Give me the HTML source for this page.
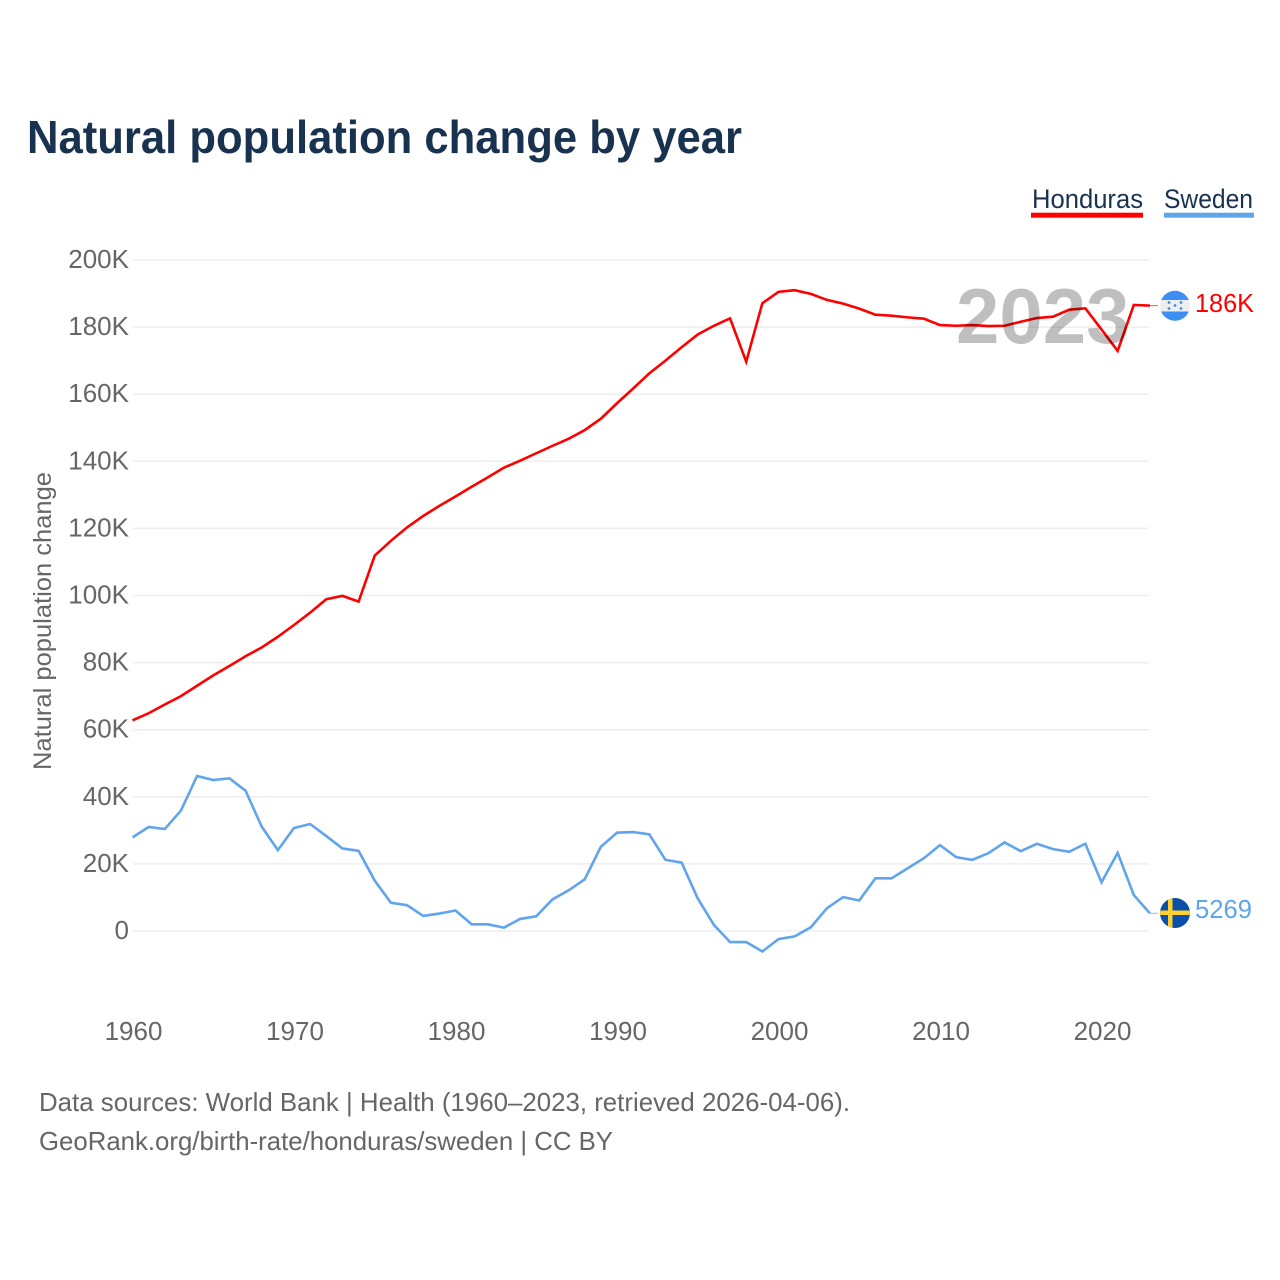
<!DOCTYPE html>
<html lang="en">
<head>
<meta charset="utf-8">
<title>Natural population change by year</title>
<style>
html,body{margin:0;padding:0;background:#fff;}
svg{display:block;font-family:"Liberation Sans",sans-serif;}
</style>
</head>
<body>
<svg id="chart" xmlns="http://www.w3.org/2000/svg" width="1280" height="1280" viewBox="0 0 1280 1280">
  <defs>
    <clipPath id="clip-hn"><circle cx="1175" cy="305.8" r="15"/></clipPath>
    <clipPath id="clip-se"><circle cx="1175" cy="913" r="15"/></clipPath>
  </defs>
  <rect x="0" y="0" width="1280" height="1280" fill="#fff"/>
  <text x="27" y="153" font-size="46" font-weight="700" fill="#18324f" textLength="715" lengthAdjust="spacingAndGlyphs">Natural population change by year</text>

  <text x="1032" y="208" font-size="27" fill="#18324f" textLength="111" lengthAdjust="spacingAndGlyphs">Honduras</text>
  <rect x="1031" y="212.7" width="112" height="5" fill="#ff0000"/>
  <text x="1164" y="208" font-size="27" fill="#18324f" textLength="89" lengthAdjust="spacingAndGlyphs">Sweden</text>
  <rect x="1164" y="212.7" width="90" height="5" fill="#60a5ec"/>

  <g id="grid"></g>
  <g id="y-ticks"></g>
  <g id="x-ticks"></g>
  <text transform="translate(51,621) rotate(-90)" text-anchor="middle" font-size="25" fill="#666" textLength="298" lengthAdjust="spacingAndGlyphs">Natural population change</text>

  <g id="series"></g>

  <text x="956" y="343" font-size="78" font-weight="700" fill="#000" fill-opacity="0.25">2023</text>

  <g clip-path="url(#clip-hn)">
    <rect x="1160" y="290" width="30" height="31" fill="#eeeeee"/>
    <rect x="1160" y="290" width="30" height="10" fill="#3a8ff0"/>
    <rect x="1160" y="311.5" width="30" height="10" fill="#3a8ff0"/>
    <circle cx="1169" cy="302.5" r="1.4" fill="#3a8ff0"/>
    <circle cx="1181" cy="302.5" r="1.4" fill="#3a8ff0"/>
    <circle cx="1175" cy="305.5" r="1.4" fill="#3a8ff0"/>
    <circle cx="1169" cy="308.5" r="1.4" fill="#3a8ff0"/>
    <circle cx="1181" cy="308.5" r="1.4" fill="#3a8ff0"/>
  </g>
  <text id="label-hn" x="1195" y="312" font-size="26" fill="#ff0000" textLength="59" lengthAdjust="spacingAndGlyphs"></text>

  <g clip-path="url(#clip-se)">
    <rect x="1160" y="898" width="30" height="30" fill="#0a4fa8"/>
    <rect x="1168" y="898" width="4.5" height="30" fill="#ffd02e"/>
    <rect x="1160" y="910.5" width="30" height="4.5" fill="#ffd02e"/>
  </g>
  <text id="label-se" x="1195" y="918" font-size="26" fill="#60a5ec" textLength="57" lengthAdjust="spacingAndGlyphs"></text>

  <text x="39" y="1111" font-size="26" fill="#666" textLength="811" lengthAdjust="spacingAndGlyphs">Data sources: World Bank | Health (1960–2023, retrieved 2026-04-06).</text>
  <text x="39" y="1150" font-size="26" fill="#666" textLength="574" lengthAdjust="spacingAndGlyphs">GeoRank.org/birth-rate/honduras/sweden | CC BY</text>
</svg>
<script>
const startYear = 1960;
const yTickValues = [0, 20, 40, 60, 80, 100, 120, 140, 160, 180, 200];
const yTickLabels = ['0', '20K', '40K', '60K', '80K', '100K', '120K', '140K', '160K', '180K', '200K'];
const xTickValues = [1960, 1970, 1980, 1990, 2000, 2010, 2020];
const hondurasValues = [62.8, 64.9, 67.5, 70.0, 73.1, 76.2, 79.0, 81.9, 84.5, 87.7, 91.2, 94.9, 98.9, 99.9, 98.2, 111.9, 116.3, 120.3, 123.7, 126.7, 129.5, 132.4, 135.2, 138.1, 140.2, 142.4, 144.6, 146.7, 149.3, 152.7, 157.3, 161.7, 166.2, 170.0, 174.0, 177.8, 180.4, 182.6, 169.7, 187.1, 190.5, 191.0, 189.9, 188.1, 187.0, 185.5, 183.7, 183.4, 182.9, 182.5, 180.6, 180.4, 180.6, 180.3, 180.4, 181.6, 182.7, 183.1, 185.2, 185.6, 179.3, 172.9, 186.6, 186.4];
const swedenValues = [27.9, 31.0, 30.4, 35.9, 46.2, 45.0, 45.5, 41.8, 31.1, 24.1, 30.7, 31.9, 28.3, 24.6, 23.9, 15.0, 8.4, 7.7, 4.5, 5.2, 6.1, 2.0, 2.0, 1.0, 3.6, 4.4, 9.4, 12.1, 15.4, 25.1, 29.3, 29.5, 28.8, 21.2, 20.4, 9.7, 1.8, -3.3, -3.3, -6.1, -2.4, -1.6, 1.1, 6.8, 10.1, 9.1, 15.7, 15.7, 18.7, 21.7, 25.6, 22.0, 21.2, 23.2, 26.4, 23.8, 26.0, 24.4, 23.6, 26.0, 14.5, 23.3, 10.7, 5.269];
const hondurasEndLabel = '186K';
const swedenEndLabel = '5269';

const NS = 'http://www.w3.org/2000/svg';
const xScale = function (year) { return 132.5 + (year - startYear) * 16.15; };
const yScale = function (v) { return 931 - v * 3.355; };

function make(tag, parent) {
  const el = document.createElementNS(NS, tag);
  parent.appendChild(el);
  return el;
}

const gridGroup = document.getElementById('grid');
const yTickGroup = document.getElementById('y-ticks');
yTickValues.forEach(function (v, i) {
  const line = make('line', gridGroup);
  
  
  line.setAttribute('x1', 133);
  line.setAttribute('x2', 1149);
  line.setAttribute('y1', yScale(v));
  line.setAttribute('y2', yScale(v));
  line.setAttribute('stroke', '#eeeeee');
  line.setAttribute('stroke-width', 1.5);

  const label = make('text', yTickGroup);
  
  
  label.setAttribute('x', 129);
  label.setAttribute('y', yScale(v) + 8);
  label.setAttribute('text-anchor', 'end');
  label.setAttribute('font-size', 26);
  label.setAttribute('fill', '#666');
  label.textContent = yTickLabels[i];
});

const xTickGroup = document.getElementById('x-ticks');
xTickValues.forEach(function (year) {
  const label = make('text', xTickGroup);
  
  
  label.setAttribute('x', xScale(year) + 1);
  label.setAttribute('y', 1040);
  label.setAttribute('text-anchor', 'middle');
  label.setAttribute('font-size', 26);
  label.setAttribute('fill', '#666');
  label.textContent = String(year);
});

const seriesGroup = document.getElementById('series');

function pointsFor(values) {
  return values.map(function (v, i) {
    return xScale(startYear + i).toFixed(2) + ',' + yScale(v).toFixed(2);
  }).join(' ');
}

const hondurasLine = make('polyline', seriesGroup);


hondurasLine.setAttribute('points', pointsFor(hondurasValues));
hondurasLine.setAttribute('fill', 'none');
hondurasLine.setAttribute('stroke', '#ff0000');
hondurasLine.setAttribute('stroke-width', 2.6);
hondurasLine.setAttribute('stroke-linejoin', 'miter');

const swedenLine = make('polyline', seriesGroup);


swedenLine.setAttribute('points', pointsFor(swedenValues));
swedenLine.setAttribute('fill', 'none');
swedenLine.setAttribute('stroke', '#60a5ec');
swedenLine.setAttribute('stroke-width', 2.6);
swedenLine.setAttribute('stroke-linejoin', 'miter');

const hondurasLead = make('line', seriesGroup);


hondurasLead.setAttribute('x1', xScale(2023));
hondurasLead.setAttribute('x2', 1158);
hondurasLead.setAttribute('y1', yScale(hondurasValues[hondurasValues.length - 1]));
hondurasLead.setAttribute('y2', yScale(hondurasValues[hondurasValues.length - 1]));
hondurasLead.setAttribute('stroke', '#ff0000');
hondurasLead.setAttribute('stroke-width', 1);
hondurasLead.setAttribute('stroke-opacity', 0.7);

const swedenLead = make('line', seriesGroup);


swedenLead.setAttribute('x1', xScale(2023));
swedenLead.setAttribute('x2', 1158);
swedenLead.setAttribute('y1', yScale(swedenValues[swedenValues.length - 1]));
swedenLead.setAttribute('y2', yScale(swedenValues[swedenValues.length - 1]));
swedenLead.setAttribute('stroke', '#60a5ec');
swedenLead.setAttribute('stroke-width', 1);
swedenLead.setAttribute('stroke-opacity', 0.7);

document.getElementById('label-hn').textContent = hondurasEndLabel;
document.getElementById('label-se').textContent = swedenEndLabel;
</script>
</body>
</html>
